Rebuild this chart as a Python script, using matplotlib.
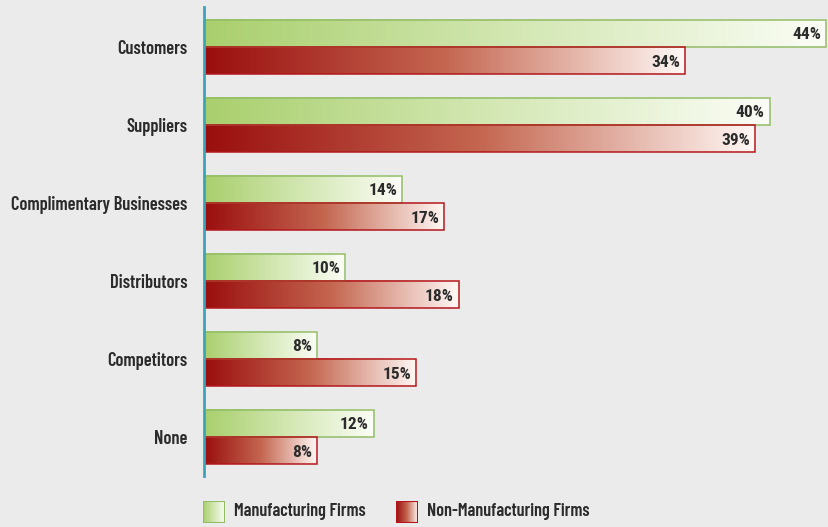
import numpy as np
import matplotlib
matplotlib.use("Agg")
from matplotlib import pyplot as plt
from matplotlib.colors import LinearSegmentedColormap
from matplotlib.patches import Rectangle

categories = ["Customers", "Suppliers", "Complimentary Businesses",
              "Distributors", "Competitors", "None"]
manufacturing = [44, 40, 14, 10, 8, 12]
non_manufacturing = [34, 39, 17, 18, 15, 8]
series_names = ["Manufacturing Firms", "Non-Manufacturing Firms"]

plt.rcParams['font.family'] = ['Barlow Condensed', 'DejaVu Sans']
plt.rcParams['font.weight'] = 'semibold'
num_font = ['Roboto Condensed', 'Barlow Condensed', 'DejaVu Sans']

bg = "#ebebeb"
txt = "#2b2b2b"
green_cmap = LinearSegmentedColormap.from_list("g", ["#a9cf6d", "#d3e7b3", "#fbfdf6"])
red_cmap = LinearSegmentedColormap.from_list("r", ["#9a0e0e", "#c46650", "#fff8f5"])
green_edge = "#93bc66"
red_edge = "#b3171c"

W, H = 829, 527
fig = plt.figure(figsize=(W / 100, H / 100), dpi=100)
fig.patch.set_facecolor(bg)

ax = fig.add_axes([204 / W, 1 - 476 / H, (W - 204) / W, 469 / H])
ax.set_facecolor(bg)

grad = np.linspace(0, 1, 256).reshape(1, -1)
bh = 0.35


def gradient_bar(a, x0, x1, y0, y1, cmap, edge):
    a.imshow(grad, cmap=cmap, extent=[x0, x1, y1, y0], aspect='auto',
             interpolation='bilinear', zorder=2)
    a.add_patch(Rectangle((x0, y0), x1 - x0, y1 - y0, fill=False,
                          edgecolor=edge, linewidth=1.1, zorder=3))


for i, (m, n) in enumerate(zip(manufacturing, non_manufacturing)):
    gradient_bar(ax, 0, m, i - bh, i, green_cmap, green_edge)
    gradient_bar(ax, 0, n, i, i + bh, red_cmap, red_edge)
    ax.text(m - 0.35, i - bh / 2 + 0.02, f"{m}%", ha='right', va='center',
            fontsize=12.5, color=txt, zorder=4, family=num_font, weight='bold')
    ax.text(n - 0.35, i + bh / 2 + 0.02, f"{n}%", ha='right', va='center',
            fontsize=12.5, color=txt, zorder=4, family=num_font, weight='bold')

ax.set_xlim(0, (W - 204) / 14.14)
ax.set_ylim(5.5, -0.513)
ax.set_yticks(range(len(categories)))
ax.set_yticklabels(categories, fontsize=13.3, color=txt)
ax.tick_params(axis='y', length=0, pad=12)
ax.set_xticks([])
for s in ['top', 'right', 'bottom']:
    ax.spines[s].set_visible(False)
ax.spines['left'].set_color("#3aa5b8")
ax.spines['left'].set_linewidth(2)
ax.spines['left'].set_zorder(5)

# legend swatches
for x_sw, x_txt, cmap, edge, name in [(203, 234, green_cmap, green_edge, series_names[0]),
                                       (396, 427, red_cmap, red_edge, series_names[1])]:
    sw = fig.add_axes([x_sw / W, 1 - 523 / H, 22 / W, 22 / H])
    sw.imshow(grad, cmap=cmap, extent=[0, 1, 0, 1], aspect='auto', interpolation='bilinear')
    sw.add_patch(Rectangle((0, 0), 1, 1, fill=False, edgecolor=edge, linewidth=1.5))
    sw.set_xlim(0, 1)
    sw.set_ylim(0, 1)
    sw.axis('off')
    fig.text(x_txt / W, 1 - 512 / H, name, ha='left', va='center', fontsize=13, color=txt)

fig.savefig("out.png", dpi=100, facecolor=bg)
